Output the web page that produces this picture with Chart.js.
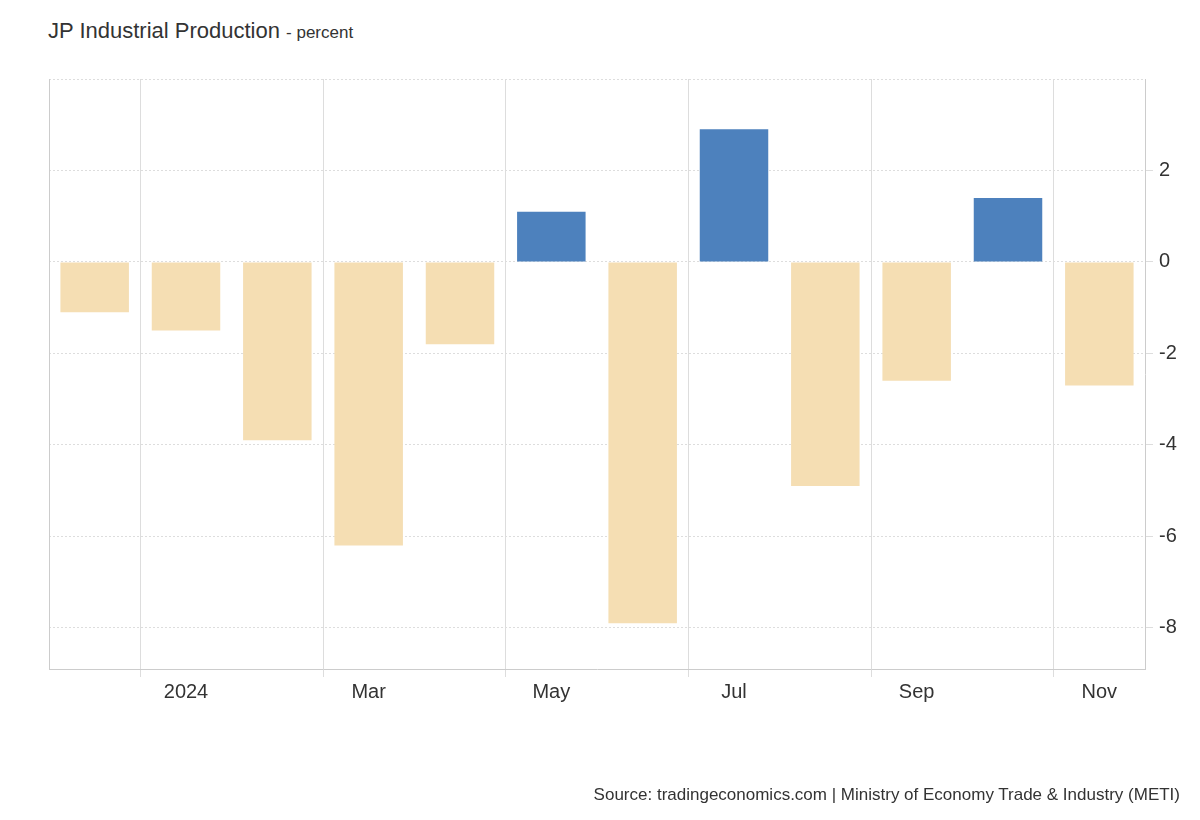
<!DOCTYPE html>
<html>
<head>
<meta charset="utf-8">
<script src="https://cdn.jsdelivr.net/npm/chart.js@4"></script>
<style>
body{margin:0;background:#fff;font-family:"Liberation Sans",Arial,sans-serif;}
#wrap{position:relative;width:1200px;height:820px;}
#title{position:absolute;left:48px;top:18px;font-size:22px;color:#333;}
#title span{font-size:17px;}
#source{position:absolute;right:20px;top:785px;font-size:17px;color:#333;}
canvas{position:absolute;left:0;top:0;}
</style>
</head>
<body>
<div id="wrap">
<div id="title">JP Industrial Production <span>- percent</span></div>
<canvas id="c" width="1200" height="820"></canvas>
<div id="source">Source: tradingeconomics.com | Ministry of Economy Trade &amp; Industry (METI)</div>
</div>
<script>
const months = ['Dec','2024','Feb','Mar','Apr','May','Jun','Jul','Aug','Sep','Oct','Nov'];
const shownLabels = ['','2024','','Mar','','May','','Jul','','Sep','','Nov'];
const values = [-1.1,-1.5,-3.9,-6.2,-1.8,1.1,-7.9,2.9,-4.9,-2.6,1.4,-2.7];
const yTicks = [-8,-6,-4,-2,0,2];

new Chart(document.getElementById('c'), {
  type:'bar',
  data:{
    labels:months,
    datasets:[{
      data:values,
      backgroundColor:values.map(v => v>=0 ? '#4d81bd' : '#f5deb3'),
      barPercentage:0.75,
      categoryPercentage:1
    }]
  },
  options:{
    responsive:false,
    animation:false,
    layout:{padding:{left:49,top:79,bottom:111,right:0}},
    plugins:{legend:{display:false},tooltip:{enabled:false}},
    scales:{
      x:{
        afterFit:s=>{s.height=40;},
        grid:{
          color:ctx=>shownLabels[ctx.index] ? '#ddd' : 'rgba(0,0,0,0)',
          borderDash:[2,2],
          drawTicks:true,tickLength:8
        },
        border:{color:'#ccc'},
        ticks:{
          autoSkip:false,maxRotation:0,
          color:'#333',font:{size:20,family:'Liberation Sans'},
          callback:(v,i)=>shownLabels[i]
        }
      },
      y:{
        position:'right',
        min:-8.9,max:4,
        afterFit:s=>{s.width=55;},
        afterBuildTicks:s=>{s.ticks=yTicks.map(v=>({value:v}));},
        grid:{color:'#ddd',tickLength:8},
        border:{color:'#ccc',dash:[2,2]},
        ticks:{color:'#333',font:{size:20,family:'Liberation Sans'},padding:6}
      }
    }
  },
  plugins:[{
    id:'frame',
    afterDraw(chart){
      const {ctx,chartArea:a}=chart;
      ctx.save();
      ctx.strokeStyle='#ddd';ctx.setLineDash([2,2]);ctx.lineWidth=1;
      ctx.beginPath();ctx.moveTo(a.left,a.top+0.5);ctx.lineTo(a.right,a.top+0.5);ctx.stroke();
      ctx.setLineDash([]);ctx.strokeStyle='#ccc';
      ctx.beginPath();ctx.moveTo(a.left+0.5,a.top);ctx.lineTo(a.left+0.5,a.bottom);ctx.stroke();
      ctx.restore();
    }
  }]
});
</script>
</body>
</html>
